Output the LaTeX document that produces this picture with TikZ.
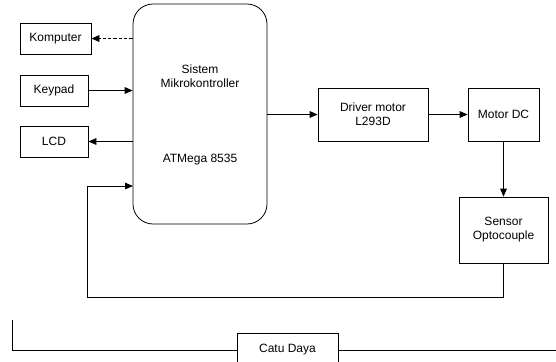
\documentclass[tikz,border=0pt]{standalone}
\usepackage{fontspec}
\setmainfont{Liberation Sans}
\usetikzlibrary{arrows.meta}
\begin{document}
\begin{tikzpicture}[x=0.75pt,y=-0.75pt,
  font=\fontsize{9}{10.5}\selectfont,
  blk/.style={draw,line width=0.6pt,rectangle,align=center,inner sep=0pt},
  arr/.style={-{Triangle[length=6pt,width=5pt]},line width=0.6pt},
  ln/.style={line width=0.6pt}]
\clip (0,0) rectangle (556,361);
\useasboundingbox (0,0) rectangle (556,361);
\node[blk,minimum width=71*0.75pt,minimum height=31*0.75pt] (komp) at (55.5,38.5) {Komputer};
\node[blk,minimum width=68*0.75pt,minimum height=31*0.75pt] (key) at (54,90.5) {Keypad};
\node[blk,minimum width=68*0.75pt,minimum height=31*0.75pt] (lcd) at (54,141.5) {LCD};
\node[blk,rounded corners=15pt,minimum width=134*0.75pt,minimum height=220*0.75pt] (mcu) at (200,114) {};
\node[align=center] (mcut) at (200,76) {Sistem\\Mikrokontroller};
\node (mcub) at (200,160) {ATMega 8535};
\node[blk,minimum width=110*0.75pt,minimum height=53*0.75pt] (drv) at (373,114.5) {Driver motor\\L293D};
\node[blk,minimum width=71*0.75pt,minimum height=53*0.75pt] (mot) at (503.5,114.5) {Motor DC};
\node[blk,minimum width=89*0.75pt,minimum height=66*0.75pt] (sen) at (503.5,230) {Sensor\\Optocouple};
\node[blk,minimum width=101*0.75pt,minimum height=34*0.75pt] (catu) at (287.5,350) {Catu Daya};
\coordinate (fbin) at (133,186);
\coordinate (fbc) at (87,297);
\coordinate (pl) at (12,320);
\coordinate (pr) at (556,350);
\draw[arr,dash pattern=on 2.5pt off 1.5pt] (mcu.west |- komp) -- (komp.east);
\draw[arr] (key.east) -- (mcu.west |- key);
\draw[arr] (mcu.west |- lcd) -- (lcd.east);
\draw[arr] (mcu.east |- drv) -- (drv.west);
\draw[arr] (drv.east) -- (mot.west);
\draw[arr] (mot.south) -- (sen.north);
\draw[arr] (sen.south) |- (fbc) |- (fbin);
\draw[ln] (pl) |- (catu.west);
\draw[ln] (catu.east) -- (pr);
\end{tikzpicture}
\end{document}
